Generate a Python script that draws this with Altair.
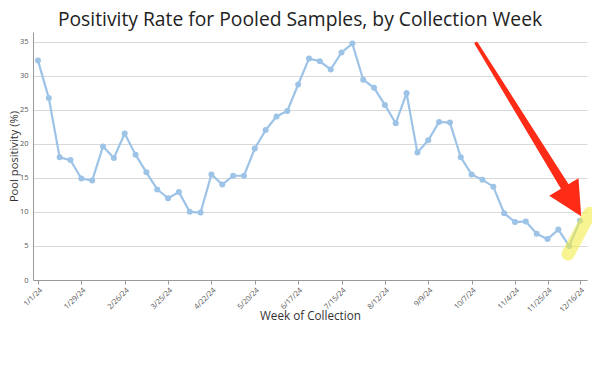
import altair as alt
import pandas as pd

# Weekly collection dates (Mondays) and pool positivity values (%)
weeks = [d.strftime("%Y-%m-%d") for d in pd.date_range("2024-01-01", periods=51, freq="7D")]
positivity = [32.2, 26.7, 18.0, 17.6, 14.9, 14.6, 19.6, 17.9, 21.5, 18.4,
              15.8, 13.3, 12.0, 12.9, 10.0, 9.9, 15.5, 14.0, 15.3, 15.3,
              19.3, 22.0, 24.0, 24.8, 28.7, 32.5, 32.1, 30.9, 33.4, 34.7,
              29.4, 28.2, 25.7, 23.0, 27.4, 18.7, 20.5, 23.2, 23.1, 18.0,
              15.5, 14.7, 13.7, 9.8, 8.5, 8.6, 6.8, 6.0, 7.4, 5.0, 8.7]

# Labelled ticks on the x axis
tick_dates = [(2024, 1, 1), (2024, 1, 29), (2024, 2, 26), (2024, 3, 25), (2024, 4, 22),
              (2024, 5, 20), (2024, 6, 17), (2024, 7, 15), (2024, 8, 12), (2024, 9, 9),
              (2024, 10, 7), (2024, 11, 4), (2024, 11, 25), (2024, 12, 16)]
y_ticks = [0, 5, 10, 15, 20, 25, 30, 35]

# Annotation: yellow highlighter stroke over the last segment
hl_weeks = ["2024-12-08T07:00:00Z", "2024-12-22T05:00:00Z"]
hl_values = [3.8, 9.8]

# Annotation: red arrow (tapered shaft + head)
shaft_weeks = ["2024-10-10T02:00:00Z", "2024-12-07T14:00:00Z"]
shaft_values = [34.7, 13.2]
shaft_widths = [3.5, 9]
head_week = ["2024-12-11T04:00:00Z"]
head_value = [11.5]

RED = "#fe2b17"
BLUE = "#9dc3e6"
FONT = "Open Sans"

df = pd.DataFrame({"week": weeks, "value": positivity})
hl = pd.DataFrame({"week": hl_weeks, "value": hl_values})
shaft = pd.DataFrame({"week": shaft_weeks, "value": shaft_values, "w": shaft_widths})
head = pd.DataFrame({"week": head_week, "value": head_value})

x_scale = alt.Scale(type="utc",
                    domain=[alt.DateTime(year=2023, month=12, date=28, hours=19, utc=True),
                            alt.DateTime(year=2024, month=12, date=20, hours=12, utc=True)])
y_scale = alt.Scale(domain=[0, 36.4], nice=False, zero=True)

x_axis = alt.Axis(values=[alt.DateTime(year=y, month=m, date=d, utc=True) for (y, m, d) in tick_dates],
                  labelExpr="utcFormat(datum.value, '%-m/%-d/%y')", labelAngle=-45,
                  labelFontSize=7.5, labelColor="#555", labelFont=FONT, labelOverlap=False,
                  tickSize=4, tickColor="#999", domainColor="#999", grid=False,
                  title="Week of Collection", titleFont=FONT, titleFontSize=11.7,
                  titleFontWeight="normal", titleColor="#333",
                  titleY=35.5, titleBaseline="middle")
y_axis = alt.Axis(values=y_ticks, labelFontSize=7.5, labelColor="#555", labelFont=FONT,
                  ticks=False, labelPadding=5, domainColor="#999", grid=True, labelOverlap=False,
                  gridColor="#d9d9d9", title="Pool positivity (%)", titleFont=FONT,
                  titleFontSize=11.2, titleFontWeight="normal", titleColor="#333",
                  titleX=-18.5, titleBaseline="middle")

X = alt.X("week:T", scale=x_scale, axis=x_axis)
Y = alt.Y("value:Q", scale=y_scale, axis=y_axis)

line = alt.Chart(df).mark_line(color=BLUE, strokeWidth=2.2).encode(x=X, y=Y)
points = alt.Chart(df).mark_point(color=BLUE, filled=True, opacity=1, size=36).encode(x=X, y=Y)
highlight = alt.Chart(hl).mark_line(color="#f3ec4a", strokeWidth=13, strokeCap="round",
                                    opacity=0.6).encode(x=X, y=Y)
arrow_shaft = alt.Chart(shaft).mark_trail(color=RED, opacity=1).encode(
    x=X, y=Y, size=alt.Size("w:Q", scale=None, legend=None))
arrow_head = alt.Chart(head).mark_point(shape="M-1,-1L1,-1L0,1Z", filled=True, size=1156,
                                        angle=329.3, color=RED, opacity=1).encode(x=X, y=Y)

chart = alt.layer(line, points, highlight, arrow_shaft, arrow_head).properties(
    width=554, height=248,
    autosize=alt.AutoSizeParams(type="none"),
    padding={"left": 25, "top": 24, "right": 5, "bottom": 80},
    title=alt.TitleParams("Positivity Rate for Pooled Samples, by Collection Week",
                          font=FONT, fontSize=19.3, fontWeight="normal", color="#222",
                          anchor="middle", offset=2, dx=-10),
).configure_view(stroke=None)

chart.save("out.html", embed_options={"renderer": "svg", "actions": False})
